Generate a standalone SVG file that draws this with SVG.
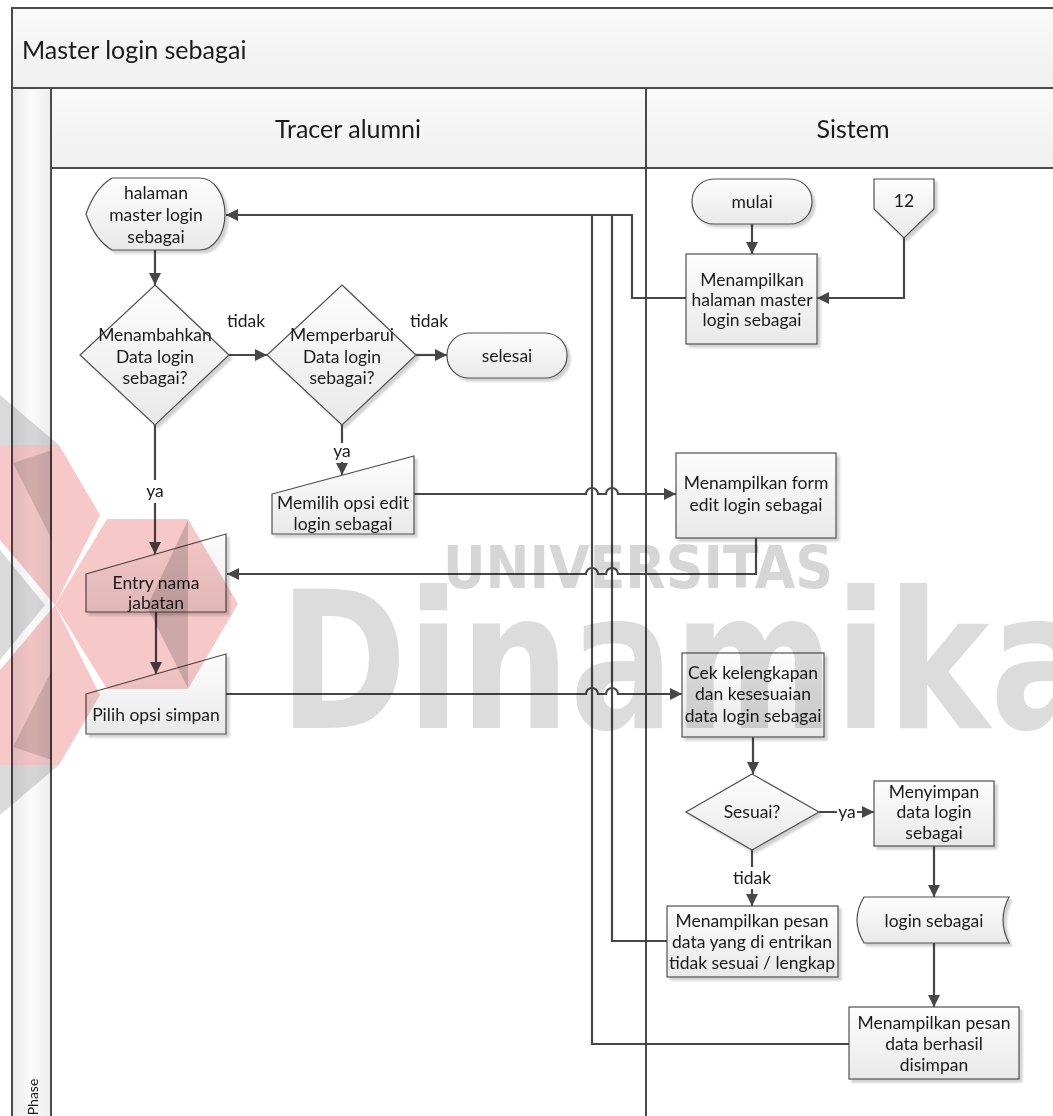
<svg xmlns="http://www.w3.org/2000/svg" width="1053" height="1116" viewBox="0 0 1053 1116">
<defs>
<linearGradient id="gNode" x1="0" y1="0" x2="0" y2="1"><stop offset="0" stop-color="#fdfdfd"/><stop offset="1" stop-color="#e9e9e9"/></linearGradient>
<linearGradient id="gHead" x1="0" y1="0" x2="0" y2="1"><stop offset="0" stop-color="#f9f9f9"/><stop offset="1" stop-color="#f0f0f0"/></linearGradient>
<linearGradient id="gPhase" x1="0" y1="0" x2="1" y2="0"><stop offset="0" stop-color="#ebebeb"/><stop offset="0.5" stop-color="#fbfbfb"/><stop offset="1" stop-color="#eeeeee"/></linearGradient>
<filter id="sh" x="-10%" y="-10%" width="130%" height="130%"><feDropShadow dx="3" dy="3" stdDeviation="1" flood-color="#000" flood-opacity="0.18"/></filter>
<marker id="ah" viewBox="0 0 12 12" refX="12" refY="6" markerWidth="12" markerHeight="12" markerUnits="userSpaceOnUse" orient="auto-start-reverse"><path d="M0,0 L12,6 L0,12 Z" fill="#474747"/></marker>
<style>
.lane{fill:none;stroke:#4a4a4a;stroke-width:2}
.node{fill:url(#gNode);stroke:#505050;stroke-width:1.2;filter:url(#sh)}
.t{font-family:Lato,"Liberation Sans",sans-serif;font-size:17.5px;fill:#1a1a1a;text-anchor:middle}
.hd{font-family:Lato,"Liberation Sans",sans-serif;font-size:25px;fill:#1a1a1a}
.c{fill:none;stroke:#474747;stroke-width:2.2}
.a{marker-end:url(#ah)}
.lbl{fill:#ffffff}
.wm{mix-blend-mode:multiply}
</style>
</defs>

<!-- pool / lanes -->
<g id="pool">
<rect x="12" y="8" width="1060" height="1120" fill="#ffffff"/>
<rect x="12" y="8" width="1060" height="80" fill="url(#gHead)"/>
<rect x="12" y="88" width="39" height="1040" fill="url(#gPhase)"/>
<rect x="51" y="88" width="1020" height="80" fill="url(#gHead)"/>
<path class="lane" d="M12,1120 V8 H1070"/>
<path class="lane" d="M12,88 H1070"/>
<path class="lane" d="M51,88 V1120"/>
<path class="lane" d="M51,168 H1070"/>
<path class="lane" d="M646,88 V1120"/>
<text class="hd" x="22" y="59">Master login sebagai</text>
<text class="hd" x="348" y="138" text-anchor="middle">Tracer alumni</text>
<text class="hd" x="853" y="138" text-anchor="middle">Sistem</text>
<text x="38" y="1097" transform="rotate(-90 38 1097)" font-family="Lato,'Liberation Sans',sans-serif" font-size="14px" fill="#1a1a1a" text-anchor="middle">Phase</text>
</g>

<!-- connectors -->
<g id="connectors">
<path class="c a" d="M155,250 V285"/>
<path class="c a" d="M229,355 H267"/>
<path class="c a" d="M416,355 H447"/>
<path class="c" d="M342,425 V443"/>
<path class="c a" d="M342,462 V475"/>
<path class="c" d="M155,425 V480"/>
<path class="c a" d="M155,503 V554"/>
<path class="c a" d="M156,612 V674"/>
<path class="c a" d="M414,494 H586 A6,6 0 0 1 598,494 H606 A6,6 0 0 1 618,494 H676"/>
<path class="c a" d="M756,538 V574 H618 A6,6 0 0 0 606,574 H598 A6,6 0 0 0 586,574 H227"/>
<path class="c a" d="M226,694 H586 A6,6 0 0 1 598,694 H606 A6,6 0 0 1 618,694 H682"/>
<path class="c a" d="M752,224 V254"/>
<path class="c a" d="M904,238 V298 H817"/>
<path class="c a" d="M686,298 H632 V215 H226"/>
<path class="c" d="M612,215 V941 H667"/>
<path class="c" d="M592,215 V1044 H849"/>
<path class="c a" d="M753,737 V774"/>
<path class="c a" d="M819,812 H874"/>
<path class="c" d="M752,850 V867"/>
<path class="c a" d="M752,889 V906"/>
<path class="c a" d="M934,846 V897"/>
<path class="c a" d="M934,943 V1007"/>
<rect class="lbl" x="837" y="803" width="20" height="18"/>
<text class="t" x="847" y="818">ya</text>
<text class="t" x="246" y="327">tidak</text>
<text class="t" x="429" y="327">tidak</text>
<text class="t" x="155" y="497">ya</text>
<text class="t" x="342" y="457">ya</text>
<text class="t" x="752" y="884">tidak</text>
</g>

<!-- nodes -->
<g id="n-halaman"><path class="node" d="M112,178 H200 A25,36 0 0 1 200,250 H112 Q95,240 86,214 Q95,188 112,178 Z"/>
<text class="t" x="156" y="199">halaman</text><text class="t" x="156" y="221">master login</text><text class="t" x="156" y="243">sebagai</text></g>

<g id="n-menambahkan"><path class="node" d="M155,285 L229,355 L155,425 L80,355 Z"/>
<text class="t" x="155" y="341">Menambahkan</text><text class="t" x="155" y="363">Data login</text><text class="t" x="155" y="384">sebagai?</text></g>

<g id="n-memperbarui"><path class="node" d="M342,285 L416,355 L342,425 L267,355 Z"/>
<text class="t" x="342" y="341">Memperbarui</text><text class="t" x="342" y="363">Data login</text><text class="t" x="342" y="384">sebagai?</text></g>

<g id="n-selesai"><rect class="node" x="447" y="333" width="120" height="45" rx="22" ry="22"/>
<text class="t" x="507" y="362">selesai</text></g>

<g id="n-memilih"><path class="node" d="M272,494 L414,456 V534 H272 Z"/>
<text class="t" x="343" y="509">Memilih opsi edit</text><text class="t" x="343" y="530">login sebagai</text></g>

<g id="n-entry"><path class="node" d="M86,574 L226,534 V612 H86 Z"/>
<text class="t" x="156" y="589">Entry nama</text><text class="t" x="156" y="609">jabatan</text></g>

<g id="n-pilih"><path class="node" d="M86,694 L226,654 V734 H86 Z"/>
<text class="t" x="156" y="721">Pilih opsi simpan</text></g>

<g id="n-mulai"><rect class="node" x="692" y="179" width="120" height="45" rx="22" ry="22"/>
<text class="t" x="752" y="208">mulai</text></g>

<g id="n-12"><path class="node" d="M874,179 H934 V209 L904,238 L874,209 Z"/>
<text class="t" x="904" y="207">12</text></g>

<g id="n-tampil-halaman"><rect class="node" x="686" y="254" width="131" height="90"/>
<text class="t" x="752" y="286">Menampilkan</text><text class="t" x="752" y="306">halaman master</text><text class="t" x="752" y="326">login sebagai</text></g>

<g id="n-form"><rect class="node" x="676" y="453" width="160" height="85"/>
<text class="t" x="756" y="489">Menampilkan form</text><text class="t" x="756" y="511">edit login sebagai</text></g>

<g id="n-cek"><rect class="node" x="682" y="653" width="142" height="84"/>
<text class="t" x="753" y="679">Cek kelengkapan</text><text class="t" x="753" y="700">dan kesesuaian</text><text class="t" x="753" y="722">data login sebagai</text></g>

<g id="n-sesuai"><path class="node" d="M752,774 L819,812 L752,850 L686,812 Z"/>
<text class="t" x="752" y="818">Sesuai?</text></g>

<g id="n-menyimpan"><rect class="node" x="874" y="781" width="120" height="65"/>
<text class="t" x="934" y="798">Menyimpan</text><text class="t" x="934" y="818">data login</text><text class="t" x="934" y="839">sebagai</text></g>

<g id="n-store"><path class="node" d="M864,897 H1009 Q997,920 1009,943 H864 Q850,920 864,897 Z"/>
<text class="t" x="934" y="927">login sebagai</text></g>

<g id="n-pesan-gagal"><rect class="node" x="667" y="906" width="171" height="71"/>
<text class="t" x="752" y="927">Menampilkan pesan</text><text class="t" x="752" y="948">data yang di entrikan</text><text class="t" x="752" y="969">tidak sesuai / lengkap</text></g>

<g id="n-berhasil"><rect class="node" x="849" y="1007" width="170" height="72"/>
<text class="t" x="934" y="1029">Menampilkan pesan</text><text class="t" x="934" y="1050">data berhasil</text><text class="t" x="934" y="1071">disimpan</text></g>

<!-- watermark (printed over the page) -->
<g id="watermark">
<polygon class="wm" points="0,445 59,445 100,515 55,605 0,540" fill="#f6c8c8"/>
<polygon class="wm" points="0,395 59,445 0,445" fill="#dadada"/>
<polygon class="wm" points="13,463 52,450 52,540" fill="#dedede"/>
<polygon class="wm" points="0,765 59,765 100,695 55,605 0,670" fill="#f6c8c8"/>
<polygon class="wm" points="0,815 59,765 0,765" fill="#dadada"/>
<polygon class="wm" points="13,747 52,760 52,670" fill="#dedede"/>
<polygon class="wm" points="55,605 107,519 188,519 238,604 188,689 107,689" fill="#f6c8c8"/>
<polygon class="wm" points="188,520 188,688 147,607" fill="#d6d6d6"/>
<polygon class="wm" points="0,550 45,605 0,660" fill="#dadada"/>
<text class="wm" x="443" y="588" font-family="'DejaVu Sans',sans-serif" font-weight="bold" font-size="58px" fill="#d6d6d6" textLength="390" lengthAdjust="spacingAndGlyphs">UNIVERSITAS</text>
<text class="wm" x="279" y="728" font-family="'DejaVu Sans',sans-serif" font-weight="bold" font-size="190px" fill="#dcdcdc" textLength="815" lengthAdjust="spacingAndGlyphs">Dinamika</text>
</g>
</svg>
